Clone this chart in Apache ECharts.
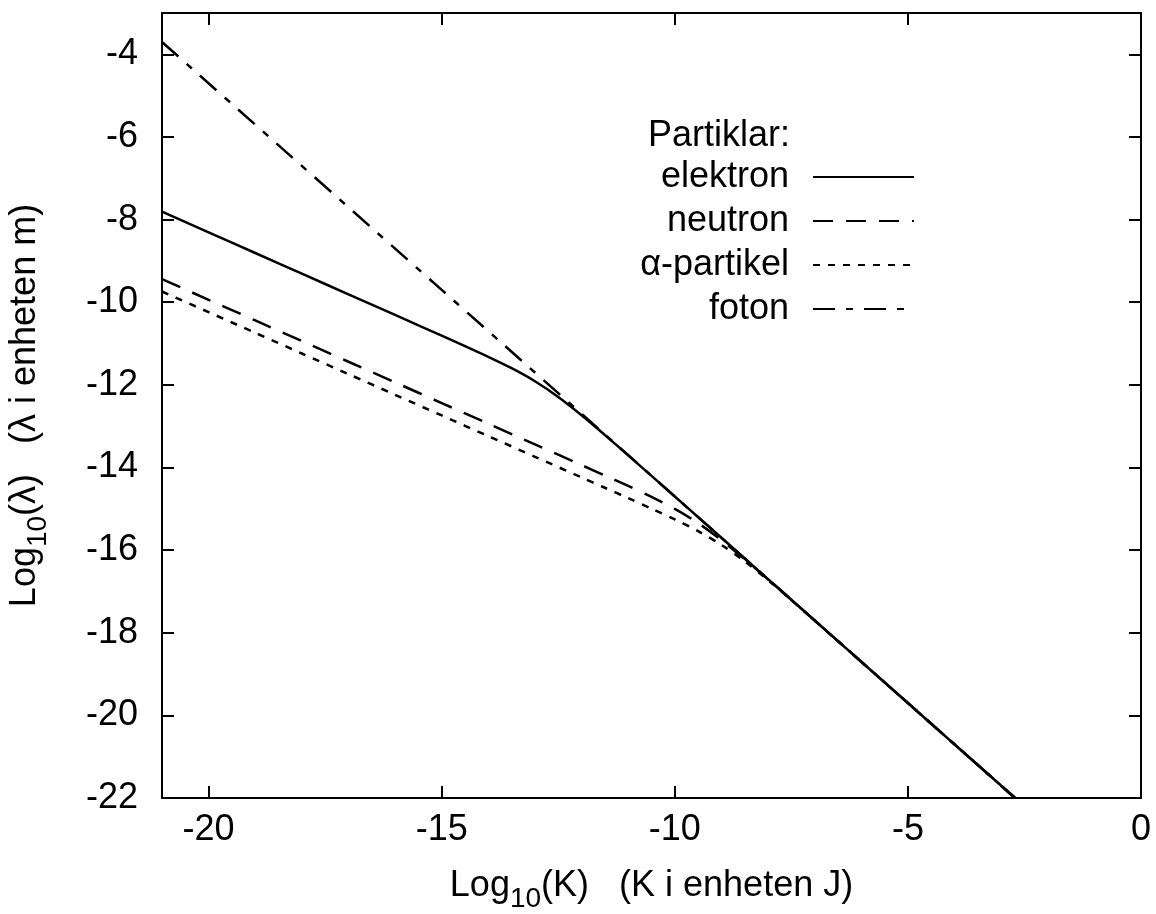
<!DOCTYPE html>
<html>
<head>
<meta charset="utf-8">
<script src="https://cdn.jsdelivr.net/npm/echarts@6/dist/echarts.min.js"></script>
<style>
    html, body { margin: 0; padding: 0; background: #fff; }
    #chart { width: 1156px; height: 914px; }
</style>
</head>
<body>
<div id="chart"></div>
<script>
// log10 K (J) och log10 lambda (m)
var elektronK = [-21, -20, -19, -18, -17, -16, -15, -14.5, -14, -13.5, -13, -12.5, -12, -11.5, -11, -10.5, -10, -9, -8, -7, -6, -5, -4, -3, -2.7];
var elektronL = [-7.809, -8.309, -8.809, -9.309, -9.809, -10.309, -10.810, -11.063, -11.322, -11.597, -11.913, -12.293, -12.735, -13.213, -13.705, -14.203, -14.702, -15.702, -16.702, -17.702, -18.702, -19.702, -20.702, -21.702, -22.0];

var neutronK = [-21, -20, -19, -18, -17, -16, -15, -14, -13, -12, -11.5, -11, -10.5, -10, -9.5, -9, -8.5, -8, -7.5, -7, -6, -5, -4, -3, -2.7];
var neutronL = [-9.441, -9.941, -10.441, -10.941, -11.441, -11.941, -12.441, -12.941, -13.441, -13.942, -14.194, -14.448, -14.713, -15.004, -15.347, -15.759, -16.222, -16.708, -17.204, -17.703, -18.702, -19.702, -20.702, -21.702, -22.0];

var alfaK = [-21, -20, -19, -18, -17, -16, -15, -14, -13, -12, -11.5, -11, -10.5, -10, -9.5, -9, -8.5, -8, -7.5, -7, -6.5, -6, -5, -4, -3, -2.7];
var alfaL = [-9.741, -10.241, -10.741, -11.241, -11.741, -12.241, -12.741, -13.241, -13.741, -14.241, -14.491, -14.742, -14.996, -15.258, -15.542, -15.873, -16.272, -16.727, -17.210, -17.705, -18.203, -18.702, -19.702, -20.702, -21.702, -22.0];

var fotonK = [-21, -15, -10, -5, -2.7];
var fotonL = [-3.702, -9.702, -14.702, -19.702, -22.0];

var namn = ['elektron', 'neutron', 'α-partikel', 'foton'];

var font = 'Liberation Sans, Arial, Helvetica, sans-serif';

function par(xs, ys) {
    var d = [];
    for (var i = 0; i < xs.length; i++) {
        d.push([xs[i], ys[i]]);
    }
    return d;
}

var myChart = echarts.init(document.getElementById('chart'));

var axisLine = { show: true, onZero: false, lineStyle: { color: '#000', width: 2 } };
var axisTick = { show: true, inside: true, length: 12, lineStyle: { color: '#000', width: 2 } };

// index "10" ska ligga lägre än resten av texten
var rich = {
    a: { fontSize: 36, fontFamily: font, color: '#000', verticalAlign: 'top' },
    s: { fontSize: 28, fontFamily: font, color: '#000', verticalAlign: 'bottom', padding: [17, 0, 0, 0] }
};

function serie(name, xs, ys, type) {
    return {
        name: name,
        type: 'line',
        xAxisIndex: 0,
        yAxisIndex: 0,
        data: par(xs, ys),
        symbol: 'none',
        showSymbol: false,
        smooth: 0.3,
        clip: true,
        lineStyle: { color: '#000', width: 2.5, type: type },
        itemStyle: { color: '#000' }
    };
}

function legendRad(name, top) {
    return {
        data: [name],
        right: 241,
        top: top,
        padding: 0,
        align: 'right',
        itemWidth: 101,
        itemHeight: 14,
        selectedMode: false,
        itemStyle: { opacity: 0 },
        textStyle: {
            fontSize: 36,
            lineHeight: 36,
            fontFamily: font,
            color: '#000',
            padding: [0, 19, 0, 0]
        }
    };
}

var option = {
    animation: false,
    backgroundColor: '#fff',
    title: {
        text: 'Partiklar:',
        right: 366,
        top: 118,
        padding: 0,
        textStyle: { fontSize: 36, lineHeight: 36, fontWeight: 'normal', fontFamily: font, color: '#000' }
    },
    legend: [
        legendRad(namn[0], 159),
        legendRad(namn[1], 203),
        legendRad(namn[2], 247),
        legendRad(namn[3], 291)
    ],
    grid: {
        left: 162,
        right: 15,
        top: 13,
        bottom: 116,
        containLabel: false,
        outerBoundsMode: 'none'
    },
    xAxis: [
        {
            type: 'value',
            position: 'bottom',
            min: -21,
            max: 0,
            splitNumber: 4,
            axisLine: axisLine,
            axisTick: axisTick,
            splitLine: { show: false },
            axisLabel: { showMinLabel: false, fontSize: 36, fontFamily: font, color: '#000', margin: 14 },
            name: '{a|Log}{s|10}{a|(K)   (K i enheten J)}',
            nameLocation: 'middle',
            nameGap: 70,
            nameTextStyle: { rich: rich }
        },
        {
            type: 'value',
            position: 'top',
            min: -21,
            max: 0,
            splitNumber: 4,
            axisLine: axisLine,
            axisTick: axisTick,
            splitLine: { show: false },
            axisLabel: { show: false }
        }
    ],
    yAxis: [
        {
            type: 'value',
            position: 'left',
            min: -22,
            max: -3,
            interval: 2,
            axisLine: axisLine,
            axisTick: axisTick,
            splitLine: { show: false },
            axisLabel: { showMaxLabel: false, fontSize: 36, fontFamily: font, color: '#000', margin: 24 },
            name: '{a|Log}{s|10}{a|(λ)   (λ i enheten m)}',
            nameLocation: 'middle',
            nameGap: 110,
            nameTextStyle: { rich: rich }
        },
        {
            type: 'value',
            position: 'right',
            min: -22,
            max: -3,
            interval: 2,
            axisLine: axisLine,
            axisTick: axisTick,
            splitLine: { show: false },
            axisLabel: { show: false }
        }
    ],
    series: [
        serie(namn[0], elektronK, elektronL, 'solid'),
        serie(namn[1], neutronK, neutronL, [20, 13]),
        serie(namn[2], alfaK, alfaL, [7, 8]),
        serie(namn[3], fotonK, fotonL, [22, 11, 7, 11])
    ]
};

myChart.setOption(option);
</script>
</body>
</html>
